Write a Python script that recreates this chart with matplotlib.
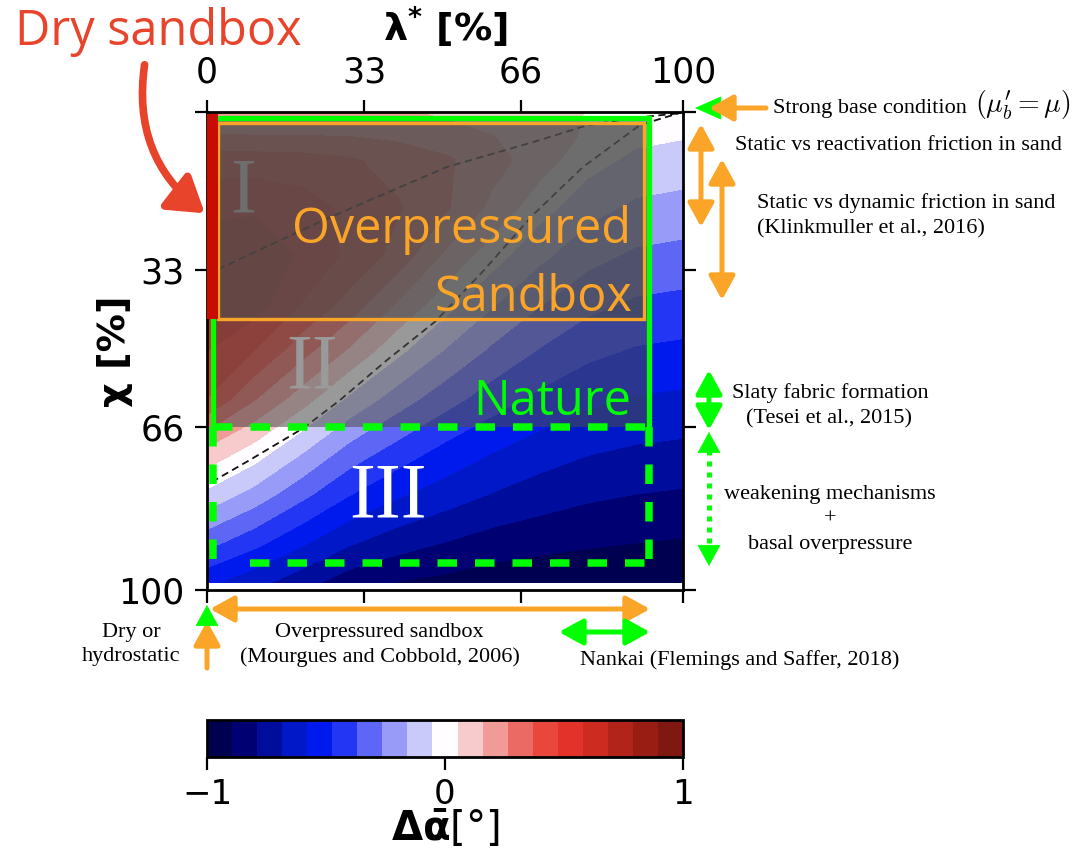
import numpy as np
import matplotlib
matplotlib.use("Agg")
import matplotlib.pyplot as plt
from matplotlib.colors import ListedColormap
from matplotlib.patches import Rectangle, FancyArrowPatch
from matplotlib.lines import Line2D

# ---------------- data ----------------
lam = [0, 10, 20, 30, 40, 50, 60, 70, 80, 90, 100]          # lambda* [%]
chi = [0, 5, 10, 20, 30, 40, 50, 60, 70, 80, 90, 98.5]      # chi [%]
dalpha = [
    [0.20, 0.19, 0.19, 0.18, 0.17, 0.14, 0.11, 0.08, 0.05, 0.02, 0.005],
    [0.27, 0.265, 0.265, 0.26, 0.24, 0.20, 0.16, 0.10, 0.04, -0.026, -0.045],
    [0.42, 0.42, 0.41, 0.38, 0.33, 0.28, 0.20, 0.10, -0.011, -0.077, -0.096],
    [0.55, 0.56, 0.52, 0.45, 0.38, 0.28, 0.13, -0.012, -0.12, -0.179, -0.197],
    [0.65, 0.66, 0.56, 0.45, 0.33, 0.14, -0.007, -0.134, -0.229, -0.281, -0.298],
    [0.66, 0.63, 0.47, 0.33, 0.15, -0.008, -0.146, -0.256, -0.338, -0.383, -0.399],
    [0.58, 0.47, 0.30, 0.14, -0.027, -0.166, -0.285, -0.378, -0.447, -0.485, -0.50],
    [0.47, 0.27, 0.10, -0.074, -0.21, -0.324, -0.424, -0.50, -0.556, -0.587, -0.60],
    [0.16, 0.03, -0.129, -0.284, -0.393, -0.49, -0.563, -0.622, -0.665, -0.689, -0.702],
    [-0.08, -0.20, -0.34, -0.47, -0.565, -0.63, -0.69, -0.735, -0.77, -0.79, -0.803],
    [-0.33, -0.44, -0.56, -0.67, -0.74, -0.79, -0.835, -0.86, -0.88, -0.893, -0.904],
    [-0.56, -0.65, -0.75, -0.85, -0.90, -0.925, -0.955, -0.968, -0.975, -0.979, -0.99],
]
levels = np.linspace(-1, 1, 20)
band_colors = ["#000050", "#000072", "#000c9c", "#0018c8", "#0019ec", "#2236f3",
               "#5e66f6", "#989cf8", "#c9caf9", "#fffdff", "#f7cbcb", "#f19b98",
               "#ec6a64", "#ea473c", "#e3322a", "#cd2a20", "#b2241a", "#9a1d14",
               "#7f1810"]

dash1_lam = [0, 2.5, 25.2, 50.4, 68.5, 79.8, 90, 100]
dash1_chi = [34, 32.8, 22.3, 11.5, 6.3, 2.8, 1.2, 0.2]
dash2_lam = [1, 9, 20.3, 27.9, 37.8, 48, 58, 68.5, 79, 91, 100]
dash2_chi = [77.4, 72.8, 66.1, 60.3, 51.9, 43.8, 33.3, 21.5, 11.5, 2.7, 0]

xticks = [0, 33, 66, 100]
xticklabels = ["0", "33", "66", "100"]
yticks = [0, 33, 66, 100]
yticklabels = ["", "33", "66", "100"]
cbar_ticks = [-1, 0, 1]

# regions (lambda range, chi range)
nature_lam = (1.3, 92.9)
nature_chi = (1.2, 66.0)
nature_ext_chi = 94.4
nature_ext_bottom_start = 9.0
sandbox_lam = (2.3, 91.8)
sandbox_chi = (2.3, 43.3)
dry_lam = (0.0, 2.3)
dry_chi = (0.5, 43.3)

# ---------------- figure ----------------
W, H = 1092, 852
fig = plt.figure(figsize=(W / 100, H / 100), dpi=100)


def P(px, py):
    return (px / W, 1 - py / H)


ax = fig.add_axes([207 / W, 1 - 590 / H, 476 / W, 478 / H])
cmap = ListedColormap(band_colors)
cf = ax.contourf(lam, chi, dalpha, levels=levels, cmap=cmap, vmin=-1, vmax=1, zorder=1)
ax.plot(dash1_lam, dash1_chi, color="#111111", lw=1.3, ls=(0, (4, 2.5)), zorder=2)
ax.plot(dash2_lam, dash2_chi, color="#111111", lw=1.3, ls=(0, (4, 2.5)), zorder=2)

ax.set_xlim(0, 100)
ax.set_ylim(100, 0)
ax.set_xticks(xticks)
ax.set_xticklabels(xticklabels)
ax.set_yticks(yticks)
ax.set_yticklabels(yticklabels)
ax.tick_params(axis="x", top=True, bottom=True, labeltop=True, labelbottom=False,
               direction="out", length=9, width=1.6, labelsize=25, pad=7)
ax.tick_params(axis="y", left=True, right=True, labelleft=True, labelright=False,
               direction="out", length=9, width=1.6, labelsize=25, pad=7)
for s in ax.spines.values():
    s.set_linewidth(2)
ax.xaxis.set_label_position("top")
ax.set_xlabel("λ$^{\\mathbf{*}}$ [%]", fontsize=27.5, fontweight="bold")
ax.set_ylabel("χ [%]", fontsize=27.5, fontweight="bold")
ax.xaxis.set_label_coords(0.5, 1.148)
ax.yaxis.set_label_coords(-0.155, 0.5)

# roman numerals (white, beneath the shading)
roman_font = dict(family="Liberation Serif", fontsize=56, color="white", ha="center",
                  va="baseline", zorder=2.5)
ax.text(7.6, 20.9, "I", **roman_font)
ax.text(22.1, 57.7, "II", **roman_font)
ax.text(38.0, 84.7, "III", **roman_font)

# shading
shade = dict(facecolor=(0.3, 0.3, 0.3), alpha=0.57, edgecolor="none")
ax.add_patch(Rectangle((nature_lam[0], nature_chi[0]), nature_lam[1] - nature_lam[0],
                       nature_chi[1] - nature_chi[0], zorder=3, **shade))
ax.add_patch(Rectangle((sandbox_lam[0], sandbox_chi[0]), sandbox_lam[1] - sandbox_lam[0],
                       sandbox_chi[1] - sandbox_chi[0], zorder=4, **shade))

green = "#00ff00"
orange = "#faa528"
# nature solid frame
ax.plot([nature_lam[0], nature_lam[0], nature_lam[1], nature_lam[1]],
        [nature_chi[1], nature_chi[0], nature_chi[0], nature_chi[1]],
        color=green, lw=3.8, solid_joinstyle="miter", zorder=5, clip_on=False)
dsh = dict(color=green, lw=5.4, ls=(0, (2.6, 2.4)), dash_capstyle="butt", zorder=5, clip_on=False)
ax.plot([nature_lam[0], nature_lam[1]], [nature_chi[1], nature_chi[1]], **dsh)
ax.plot([nature_lam[0], nature_lam[0]], [nature_chi[1], nature_ext_chi], **dsh)
ax.plot([nature_lam[1], nature_lam[1]], [nature_chi[1], nature_ext_chi], **dsh)
ax.plot([nature_ext_bottom_start, nature_lam[1]], [nature_ext_chi, nature_ext_chi], **dsh)
# sandbox frame
ax.add_patch(Rectangle((sandbox_lam[0], sandbox_chi[0]), sandbox_lam[1] - sandbox_lam[0],
                       sandbox_chi[1] - sandbox_chi[0], facecolor="none",
                       edgecolor=orange, lw=2.4, zorder=6))
# dry sandbox bar
ax.add_patch(Rectangle((dry_lam[0], dry_chi[0]), dry_lam[1] - dry_lam[0],
                       dry_chi[1] - dry_chi[0], facecolor="#c80c00", edgecolor="none",
                       zorder=7, clip_on=False))

big = dict(family="Open Sans", fontsize=35)
ax.text(89.0, 27.4, "Overpressured", color=orange, ha="right", va="baseline", zorder=8, **big)
ax.text(89.3, 41.6, "Sandbox", color=orange, ha="right", va="baseline", zorder=8, **big)
ax.text(89.0, 63.4, "Nature", color=green, ha="right", va="baseline", zorder=8, **big)

# colorbar
cax = fig.add_axes([207 / W, 1 - 757 / H, 476 / W, 37 / H])
cb = fig.colorbar(cf, cax=cax, orientation="horizontal", ticks=cbar_ticks)
cb.outline.set_linewidth(2)
cax.tick_params(length=9, width=1.6, labelsize=24.5, pad=6)
cb.set_label(r"$\mathbf{\Delta\bar{\alpha}}$[°]", fontsize=29, labelpad=-2)

# ---------------- annotations ----------------
fig.text(*P(15, 45), "Dry sandbox", family="Open Sans", fontsize=35, color="#e8432b",
         ha="left", va="baseline")
fig.patches.append(FancyArrowPatch(P(145, 62), P(207, 215), transform=fig.transFigure,
                                   connectionstyle="arc3,rad=0.3",
                                   arrowstyle="-|>,head_length=0.7,head_width=0.45",
                                   mutation_scale=30, lw=5.5, color="#e8432b"))

serif = dict(family="Liberation Serif", fontsize=16, color="black")


def arrow(p0, p1, color, style="<|-|>", lw=3.6, ms=24, hl=0.6, hw=0.33):
    fig.patches.append(FancyArrowPatch(P(*p0), P(*p1), transform=fig.transFigure,
                                       arrowstyle=f"{style},head_length={hl},head_width={hw}",
                                       mutation_scale=ms, lw=lw, color=color,
                                       shrinkA=0, shrinkB=0))


# strong base condition
arrow((713, 108), (695, 108), green, style="-|>", lw=0.5, ms=20, hl=0.9, hw=0.4)
arrow((766, 108), (709, 108), orange, style="-|>")
fig.text(*P(773, 108), "Strong base condition", ha="left", va="center", **serif)
fig.text(*P(975, 105), r"$(\mu_b^{\prime} = \mu)$", ha="left", va="center", fontsize=20,
         math_fontfamily="cm")
arrow((701, 124), (701, 227), orange)
fig.text(*P(735, 146), "Static vs reactivation friction in sand", ha="left", va="center", **serif)
arrow((722, 159), (722, 300), orange)
fig.text(*P(757, 203), "Static vs dynamic friction in sand", ha="left", va="center", **serif)
fig.text(*P(757, 229), "(Klinkmuller et al., 2016)", ha="left", va="center", **serif)

arrow((709, 370), (709, 430), green)
fig.text(*P(830, 393), "Slaty fabric formation", ha="center", va="center", **serif)
fig.text(*P(829, 419), "(Tesei et al., 2015)", ha="center", va="center", **serif)
# dotted double arrow
fig.lines.append(Line2D([709 / W, 709 / W], [1 - 450 / H, 1 - 546 / H], transform=fig.transFigure,
                        color=green, lw=3.6, ls=(0, (1, 1.2))))
arrow((709, 453), (709, 432), green, style="-|>", lw=0.5)
arrow((709, 545), (709, 566), green, style="-|>", lw=0.5)
fig.text(*P(830, 494), "weakening mechanisms", ha="center", va="center", **serif)
fig.text(*P(830, 519), "+", ha="center", va="center", **serif)
fig.text(*P(830, 545), "basal overpressure", ha="center", va="center", **serif)

# bottom annotations
arrow((210, 609), (650, 609), orange)
arrow((559, 632), (650, 632), green)
arrow((207, 668), (207, 621), orange, style="-|>")
arrow((207, 624), (207, 605), green, style="-|>", lw=0.5)
fig.text(*P(131, 633), "Dry or", ha="center", va="center", **serif)
fig.text(*P(131, 657), "hydrostatic", ha="center", va="center", **serif)
fig.text(*P(379, 632), "Overpressured sandbox", ha="center", va="center", **serif)
fig.text(*P(380, 657), "(Mourgues and Cobbold, 2006)", ha="center", va="center", **serif)
fig.text(*P(740, 660), "Nankai (Flemings and Saffer, 2018)", ha="center", va="center", **serif)

fig.savefig("out.png", dpi=100)
